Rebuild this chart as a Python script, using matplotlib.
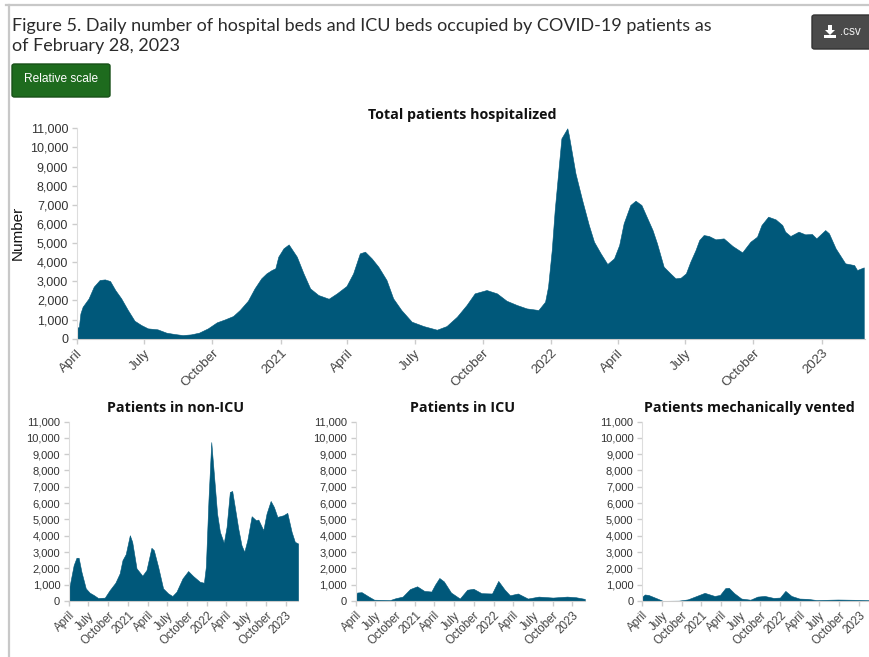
import pandas as pd
import matplotlib
matplotlib.use('Agg')
import matplotlib.pyplot as plt
from matplotlib.patches import FancyBboxPatch, Polygon, Rectangle
from matplotlib.lines import Line2D

W, H = 869, 657
BLUE = '#00587a'

start = pd.Timestamp('2020-04-01')
end = pd.Timestamp('2023-02-28')
tick_dates = ['2020-04-01', '2020-07-01', '2020-10-01', '2021-01-01', '2021-04-01', '2021-07-01',
              '2021-10-01', '2022-01-01', '2022-04-01', '2022-07-01', '2022-10-01', '2023-01-01']
tick_labels = ['April', 'July', 'October', '2021', 'April', 'July',
               'October', '2022', 'April', 'July', 'October', '2023']
y_ticks = list(range(0, 12000, 1000))

# days since 2020-04-01
total_days = [0, 3, 5, 8, 16, 23, 31, 38, 45, 52, 60, 69, 78, 87, 96, 109, 121, 132, 143, 154, 165, 177,
              189, 200, 211, 220, 231, 240, 249, 256, 263, 268, 272, 279, 286, 297, 306, 315, 326, 340,
              351, 364, 373, 382, 389, 398, 407, 418, 427, 438, 452, 468, 486, 499, 513, 526, 537, 553,
              567, 580, 594, 607, 623, 632, 636, 641, 645, 650, 654, 662, 664, 673, 682, 691, 698, 707,
              716, 725, 732, 738, 747, 754, 762, 770, 777, 783, 792, 801, 808, 815, 822, 828, 835, 840,
              846, 853, 862, 873, 885, 898, 909, 918, 924, 933, 943, 952, 956, 963, 974, 983, 992, 998,
              1010, 1015, 1024, 1037, 1049, 1053, 1062]
total_vals = [540, 630, 1320, 1670, 2100, 2720, 3070, 3100, 3015, 2545, 2110, 1500, 940, 715, 540, 490,
              315, 245, 190, 225, 315, 540, 855, 1010, 1185, 1500, 1985, 2630, 3155, 3415, 3590, 3680,
              4290, 4725, 4930, 4290, 3415, 2630, 2285, 2090, 2370, 2755, 3415, 4460, 4550, 4200, 3765,
              3070, 2110, 1500, 890, 660, 470, 660, 1150, 1760, 2370, 2545, 2370, 1985, 1760, 1585, 1500,
              1935, 2720, 4640, 6730, 8820, 10475, 11000, 10650, 8645, 7250, 5945, 5070, 4460, 3905, 4200,
              4900, 6030, 6990, 7215, 6990, 6290, 5680, 4985, 3765, 3415, 3155, 3190, 3415, 4025, 4635,
              5160, 5420, 5370, 5195, 5245, 4845, 4515, 5070, 5335, 5945, 6380, 6240, 5945, 5595, 5370,
              5595, 5455, 5475, 5245, 5680, 5510, 4725, 3940, 3850, 3590, 3730]

nonicu_days = [0, 8, 23, 36, 46, 59, 79, 97, 116, 136, 167, 190, 216, 236, 249, 264, 283, 294, 314, 341,
               360, 383, 394, 414, 437, 460, 480, 499, 527, 553, 576, 607, 626, 635, 647, 660, 672, 687,
               700, 718, 731, 746, 757, 769, 785, 800, 813, 827, 847, 867, 878, 901, 916, 935, 950, 966,
               994, 1012, 1032, 1047, 1062]
nonicu_vals = [670, 1180, 2200, 2650, 2650, 1790, 775, 510, 365, 185, 205, 670, 1120, 1690, 2505, 2870,
               4030, 3625, 2000, 1550, 1895, 3260, 3115, 2100, 775, 470, 305, 570, 1385, 1835, 1530, 1180,
               1120, 2100, 6170, 9740, 7800, 5360, 4240, 3565, 4540, 6680, 6740, 5765, 4440, 3420, 3015,
               3730, 5195, 4950, 4990, 4340, 5360, 6130, 5765, 5155, 5255, 5400, 4240, 3625, 3525]

icu_days = [0, 7, 28, 61, 86, 160, 185, 218, 252, 285, 318, 351, 368, 388, 409, 442, 483, 517, 546, 583,
            632, 661, 691, 715, 752, 798, 848, 914, 980, 1021, 1062]
icu_vals = [300, 520, 540, 270, 80, 60, 170, 270, 730, 900, 620, 580, 1000, 1410, 1200, 520, 150, 690, 750,
            480, 460, 1230, 690, 350, 460, 150, 270, 210, 270, 230, 130]

vent_days = [0, 13, 30, 71, 96, 170, 212, 253, 290, 336, 361, 386, 402, 427, 460, 502, 535, 568, 609, 639,
             664, 692, 729, 767, 808, 907, 1007, 1053, 1062]
vent_vals = [250, 400, 370, 150, 10, 20, 100, 310, 500, 310, 370, 790, 810, 480, 150, 80, 270, 310, 190, 210,
             620, 310, 150, 130, 60, 90, 70, 50, 50]


def px_axes(fig, left, top, right, bottom):
    return fig.add_axes([left / W, 1 - bottom / H, (right - left) / W, (bottom - top) / H])


def panel(fig, box, days, vals, title, title_y, size, xsize):
    ax = px_axes(fig, *box)
    dates = start + pd.to_timedelta(days, unit='D')
    ax.fill_between(dates, vals, 0, color=BLUE, linewidth=0.4)
    ax.set_xlim(start, end)
    ax.set_ylim(0, 11000)
    ax.set_yticks(y_ticks)
    ax.set_yticklabels([f'{v:,}' for v in y_ticks], family='Liberation Sans', fontsize=size, color='#333333')
    ax.set_xticks(pd.to_datetime(tick_dates))
    ax.set_xticklabels(tick_labels, family='Liberation Sans', fontsize=xsize, color='#444444',
                       rotation=45, ha='right', rotation_mode='anchor')
    ax.tick_params(axis='both', color='#cccccc', length=3.6, width=1, pad=2.5)
    ax.spines['top'].set_visible(False)
    ax.spines['right'].set_visible(False)
    ax.spines['left'].set_color('#dddddd')
    ax.spines['bottom'].set_color('#cccccc')
    fig.text(title_x[title] / W, 1 - title_y / H, title, family='Open Sans', fontweight='bold',
             fontsize=10.3, color='#111111', ha='center', va='center')
    return ax


title_x = {'Total patients hospitalized': 462.5, 'Patients in non-ICU': 176,
           'Patients in ICU': 463, 'Patients mechanically vented': 749.5}

fig = plt.figure(figsize=(W / 100, H / 100), dpi=100)

# page frame
fig.add_artist(Line2D([6 / W, 1], [1 - 5 / H, 1 - 5 / H], color='#c8c8c8', linewidth=1.6))
fig.add_artist(Line2D([9 / W, 9 / W], [0, 1 - 5 / H], color='#c8c8c8', linewidth=1.6))

fig.text(12 / W, 1 - 26 / H, 'Figure 5. Daily number of hospital beds and ICU beds occupied by COVID-19 patients as',
         family='Lato', fontsize=13, color='#2b2b2b', va='center')
fig.text(12 / W, 1 - 46 / H, 'of February 28, 2023', family='Lato', fontsize=13, color='#2b2b2b', va='center')

# buttons
trans = fig.transFigure
fig.add_artist(FancyBboxPatch((12 / W, 1 - 97 / H), 98 / W, 33 / H, boxstyle='round,pad=0,rounding_size=0.003',
                              facecolor='#1e6b1e', edgecolor='#174f17', linewidth=1, transform=trans))
fig.text(61 / W, 1 - 79.5 / H, 'Relative scale', family='Liberation Sans', fontsize=8.6, color='#ffffff',
         ha='center', va='center')
fig.add_artist(FancyBboxPatch((812 / W, 1 - 49 / H), 60 / W, 34 / H, boxstyle='round,pad=0,rounding_size=0.003',
                              facecolor='#4a4a4a', edgecolor='#333333', linewidth=1, transform=trans))
fig.text(840 / W, 1 - 32 / H, '.csv', family='Liberation Sans', fontsize=8.4, color='#f2f2f2', va='center')
icon = [(828, 25), (832, 25), (832, 30), (835, 30), (830, 35), (825, 30), (828, 30)]
fig.add_artist(Polygon([(x / W, 1 - y / H) for x, y in icon], facecolor='white', edgecolor='none', transform=trans))
fig.add_artist(Rectangle((824 / W, 1 - 38 / H), 12 / W, 3 / H, facecolor='white', edgecolor='none', transform=trans))

panel(fig, (76.7, 128.3, 864.5, 338.7), total_days, total_vals, 'Total patients hospitalized', 115.5, 9, 9.6)
fig.text(18 / W, 1 - 233 / H, 'Number', family='Liberation Sans', fontsize=11, color='#111111',
         rotation=90, ha='center', va='center')
panel(fig, (68.7, 421.5, 298.3, 601), nonicu_days, nonicu_vals, 'Patients in non-ICU', 408, 8, 8.4)
panel(fig, (355.6, 421.5, 585, 601), icu_days, icu_vals, 'Patients in ICU', 408, 8, 8.4)
panel(fig, (642, 421.5, 871.5, 601), vent_days, vent_vals, 'Patients mechanically vented', 408, 8, 8.4)

plt.savefig('out.png', dpi=100)
plt.close()
